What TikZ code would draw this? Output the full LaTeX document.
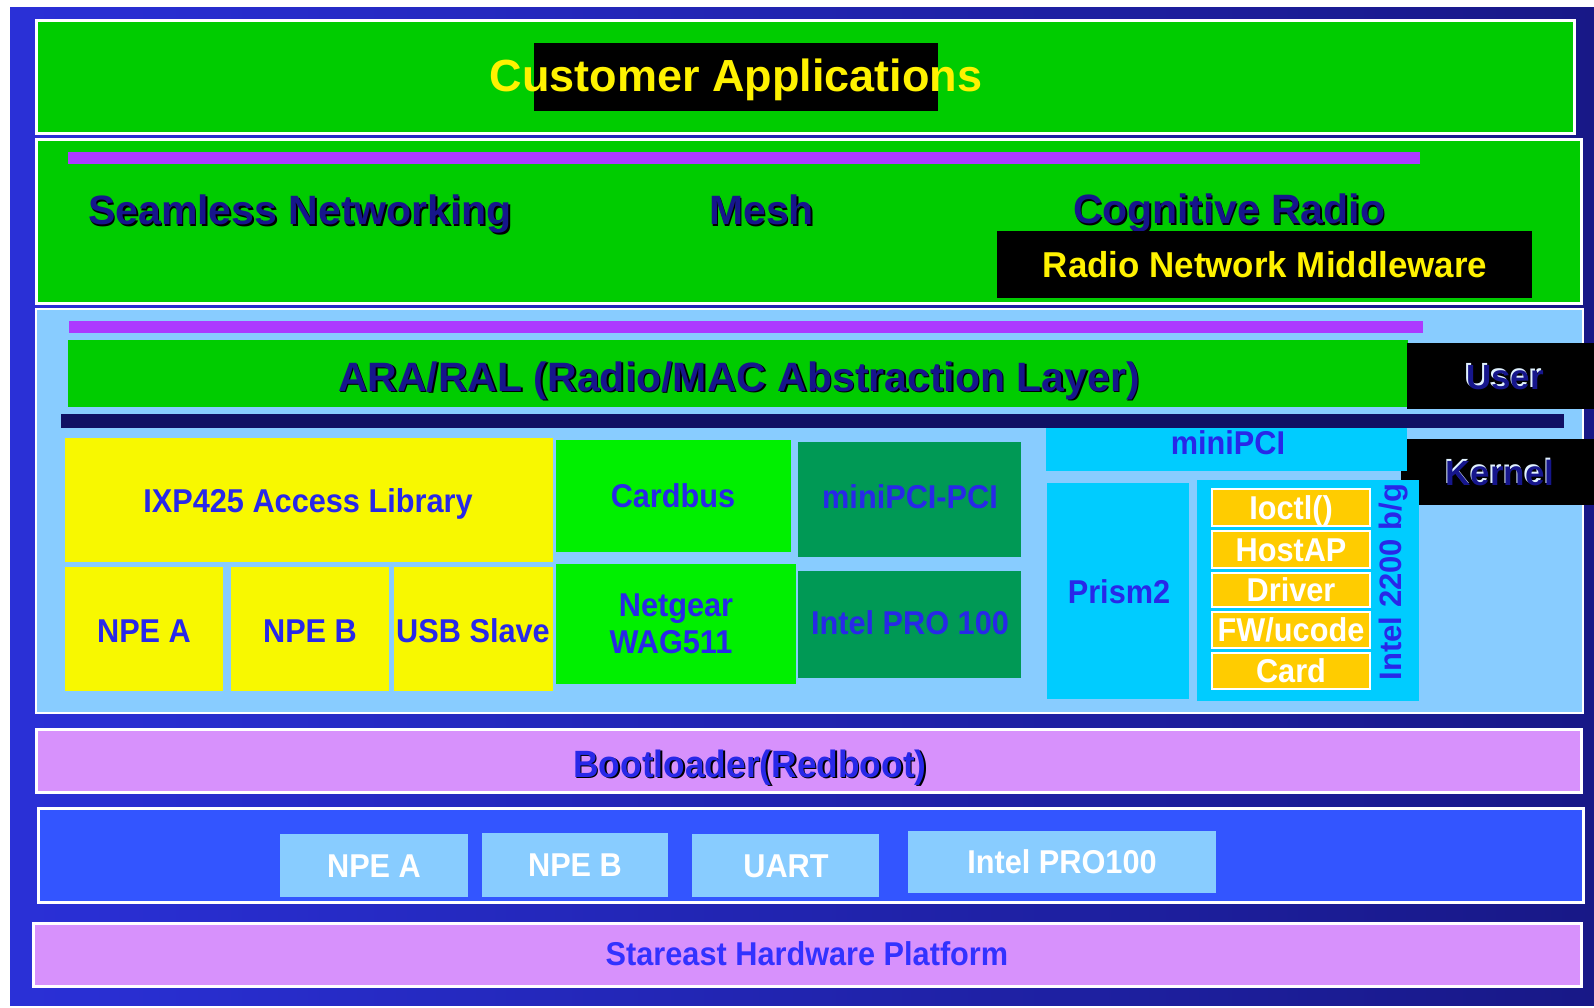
\documentclass[tikz,border=0pt]{standalone}
\usepackage{fontspec}
\setmainfont{Liberation Sans}
\usetikzlibrary{fit}
\definecolor{bgL}{RGB}{42,48,215}
\definecolor{bgR}{RGB}{24,24,135}
\definecolor{grn}{RGB}{0,204,0}
\definecolor{bgrn}{RGB}{0,240,0}
\definecolor{dgrn}{RGB}{0,153,85}
\definecolor{ylw}{RGB}{248,248,0}
\definecolor{lblu}{RGB}{136,204,255}
\definecolor{cyn}{RGB}{0,204,255}
\definecolor{orng}{RGB}{255,204,0}
\definecolor{pnk}{RGB}{215,145,252}
\definecolor{mblu}{RGB}{51,85,255}
\definecolor{prpl}{RGB}{172,58,255}
\definecolor{nvy}{RGB}{16,16,100}
\definecolor{dtxt}{RGB}{22,22,140}
\definecolor{btxt}{RGB}{40,40,232}
\definecolor{ptxt}{RGB}{50,50,255}
\newcommand\fsz[1]{\fontsize{#1}{#1}\selectfont}
\newcommand\bx[6]{\node[box,#6,fit={(#2,#3) (#4,#5)}] (#1) {};}
\newcommand\shtx[6]{\node[#4, text=#5] (#1s) at ({#2+1.5},{#3+1.5}) {#6};
  \node[#4] (#1) at (#2,#3) {#6};}
\begin{document}
\begin{tikzpicture}[x=1pt,y=-1pt,
  box/.style={inner sep=0pt, outer sep=0pt, draw=none},
  layer/.style={draw=white, line width=3pt},
  thinlayer/.style={draw=white, line width=2pt},
  big/.style={font=\bfseries\fsz{41}, text=dtxt, inner sep=0pt},
  lab/.style={font=\bfseries\fsz{33}, text=btxt, inner sep=0pt, anchor=base, xscale=0.93},
  rlab/.style={font=\bfseries\fsz{31}, text=btxt, inner sep=0pt, anchor=base},
  wlab/.style={lab, text=white},
  uk/.style={font=\bfseries\fsz{35}, text=dtxt, inner sep=0pt, anchor=base},
  obox/.style={fill=orng, draw=white, line width=2pt}]
\fill[white] (0,0) rectangle (1594,1008);
\useasboundingbox (0,0) rectangle (1594,1008);
\bx{bg}{10}{8}{1594}{1005}{left color=bgL, right color=bgR}
% Customer applications
\bx{cust}{36}{21}{1574}{134}{layer, fill=grn}
\bx{custhl}{534}{43}{938}{111}{fill=black}
\node[font=\bfseries\fsz{45}, text=yellow, anchor=base, inner sep=0pt] (custtx) at (736,92) {Customer Applications};
% Networking layer
\bx{net}{36}{140}{1581}{303}{layer, fill=grn}
\bx{pbar1}{68}{152}{1420}{164}{fill=prpl}
\shtx{seam}{88}{225}{big, anchor=base west}{black}{Seamless Networking}
\shtx{mesh}{709}{225}{big, anchor=base west}{black}{Mesh}
\shtx{cog}{1073}{224}{big, anchor=base west}{black}{Cognitive Radio}
\bx{rnm}{997}{231}{1532}{298}{fill=black}
\node[font=\bfseries\fsz{36}, text=yellow, anchor=base, inner sep=0pt, xscale=0.97] (rnmtx) at (1265,277) {Radio Network Middleware};
% Kernel / user region
\bx{kreg}{36}{309}{1583}{713}{thinlayer, fill=lblu}
\bx{pbar2}{69}{321}{1423}{333}{fill=prpl}
\bx{ara}{68}{340}{1408}{407}{fill=grn}
\shtx{aratx}{739}{391}{big, anchor=base}{black}{ARA/RAL (Radio/MAC Abstraction Layer)}
\bx{user}{1407}{343}{1594}{409}{fill=black}
\node[uk, text=white!75!lblu] (usertxs) at (1503.5,387.5) {User};
\node[uk] (usertx) at (1505,389) {User};
\bx{nbar}{61}{414}{1564}{428}{fill=nvy}
\bx{kern}{1401}{439}{1594}{505}{fill=black}
\node[uk, text=white!75!lblu] (kerntxs) at (1498.5,483.5) {Kernel};
\node[uk] (kerntx) at (1500,485) {Kernel};
% IXP425
\bx{ixp}{65}{438}{553}{562}{fill=ylw}
\node[lab] (ixptx) at (308,512) {IXP425 Access Library};
\bx{npea}{65}{567}{223}{691}{fill=ylw}
\node[lab] (npeatx) at (144,642) {NPE A};
\bx{npeb}{231}{567}{389}{691}{fill=ylw}
\node[lab] (npebtx) at (310,642) {NPE B};
\bx{usb}{394}{567}{553}{691}{fill=ylw}
\node[lab] (usbtx) at (473,642) {USB Slave};
% Cardbus
\bx{card}{556}{440}{791}{552}{fill=bgrn}
\node[lab] (cardtx) at (673,507) {Cardbus};
\bx{netg}{556}{564}{796}{684}{fill=bgrn}
\node[lab] (netgtx1) at (676,616) {Netgear};
\node[lab] (netgtx2) at (671,653) {WAG511};
% miniPCI-PCI
\bx{mpp}{798}{442}{1021}{557}{fill=dgrn}
\node[lab] (mpptx) at (910,508) {miniPCI-PCI};
\bx{ipro}{798}{571}{1021}{678}{fill=dgrn}
\node[lab] (iprotx) at (910,634) {Intel PRO 100};
% miniPCI
\bx{mpci}{1046}{428}{1407}{471}{fill=cyn}
\node[lab] (mpcitx) at (1228,454) {miniPCI};
\bx{prism}{1047}{483}{1189}{699}{fill=cyn}
\node[lab] (prismtx) at (1119,603) {Prism2};
\bx{i2200}{1197}{480}{1419}{701}{fill=cyn}
\node[rlab, rotate=90] (i2200tx) at (1401,582) {Intel 2200 b/g};
\bx{o1}{1212}{489}{1370}{526}{obox}
\node[wlab] (o1tx) at (1291,519) {Ioctl()};
\bx{o2}{1212}{531}{1370}{568}{obox}
\node[wlab] (o2tx) at (1291,561) {HostAP};
\bx{o3}{1212}{573}{1370}{607}{obox}
\node[wlab] (o3tx) at (1291,601) {Driver};
\bx{o4}{1212}{612}{1370}{648}{obox}
\node[wlab] (o4tx) at (1291,641) {FW/ucode};
\bx{o5}{1212}{653}{1370}{689}{obox}
\node[wlab] (o5tx) at (1291,682) {Card};
% Bootloader
\bx{boot}{36}{729}{1581}{792}{layer, fill=pnk}
\shtx{boottx}{750}{777}{font=\bfseries\fsz{38}, text=btxt, inner sep=0pt, anchor=base, xscale=0.93}{black}{Bootloader(Redboot)}
% Hardware blocks
\bx{hw}{38}{808}{1583}{902}{layer, fill=mblu}
\bx{hnpea}{280}{834}{468}{897}{fill=lblu}
\node[wlab] (hnpeatx) at (374,877) {NPE A};
\bx{hnpeb}{482}{833}{668}{897}{fill=lblu}
\node[wlab] (hnpebtx) at (575,876) {NPE B};
\bx{uart}{692}{834}{879}{897}{fill=lblu}
\node[wlab] (uarttx) at (786,877) {UART};
\bx{hipro}{908}{831}{1216}{893}{fill=lblu}
\node[wlab] (hiprotx) at (1062,873) {Intel PRO100};
% Platform
\bx{plat}{33}{923}{1581}{986}{layer, fill=pnk}
\node[lab, text=ptxt] (plattx) at (807,965) {Stareast Hardware Platform};
\end{tikzpicture}
\end{document}
